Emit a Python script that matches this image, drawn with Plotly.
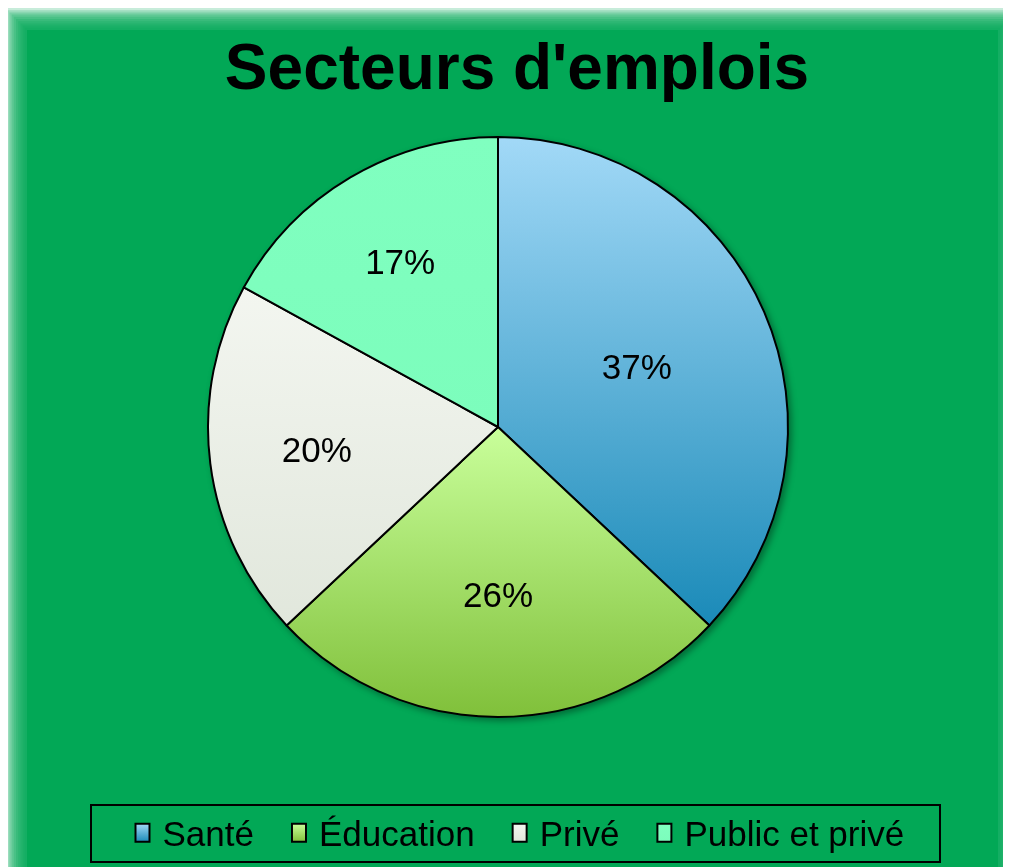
import json
import plotly.graph_objects as go

# ---- data ----
labels = ["Santé", "Éducation", "Privé", "Public et privé"]
values = [37, 26, 20, 17]
title_text = "Secteurs d'emplois"

# ---- styles ----
solid_colors = ["#5FA9D3", "#A6DE6B", "#EAEEE6", "#7FFFBF"]
grad_top = ["#A2D9F7", "#C9FF9B", "#F3F6F0", "#80FFC0"]
grad_bottom = ["#1A8AB8", "#80C03A", "#E1E7DC", "#7CFDBC"]
bg_green = "#02A856"
FONT = "Liberation Sans, Arial, sans-serif"
W, H = 1011, 867

fig = go.Figure()
fig.add_trace(go.Pie(
    labels=labels,
    values=values,
    sort=False,
    direction="clockwise",
    rotation=0,
    texttemplate="%{percent:.0%}",
    textposition="inside",
    insidetextorientation="horizontal",
    textfont=dict(family=FONT, size=35, color="black"),
    marker=dict(colors=solid_colors, line=dict(color="black", width=2)),
    domain=dict(x=[(490 - 290) / W, (490 + 290) / W],
                y=[1 - 709 / H, 1 - 129 / H]),
    hoverinfo="label+percent",
))

# soft-edged green background (decorative)
shapes = []
steps = 10
for i in range(steps):
    shapes.append(dict(type="rect", xref="paper", yref="paper", layer="below",
                       x0=(-3 + 2.2 * i) / W, x1=(1012 - 2.2 * i) / W,
                       y0=-0.05, y1=1 - (0 + 2.2 * i) / H,
                       fillcolor=bg_green, opacity=0.22, line=dict(width=0)))
shapes.append(dict(type="rect", xref="paper", yref="paper", layer="below",
                   x0=19 / W, x1=990 / W, y0=-0.05, y1=1 - 22 / H,
                   fillcolor=bg_green, opacity=1, line=dict(width=0)))
# legend frame
shapes.append(dict(type="rect", xref="paper", yref="paper", layer="above",
                   x0=83 / W, x1=932 / W, y0=1 - 854 / H, y1=1 - 797 / H,
                   fillcolor="rgba(0,0,0,0)", line=dict(color="black", width=2)))

fig.update_layout(
    width=W, height=H,
    margin=dict(l=0, r=0, t=0, b=0),
    paper_bgcolor="white",
    plot_bgcolor="rgba(0,0,0,0)",
    shapes=shapes,
    title=dict(text=title_text, x=509 / W, xanchor="center", y=1 - 59 / H,
               yanchor="middle", yref="container",
               font=dict(family=FONT, size=64, color="black", weight="bold")),
    showlegend=True,
    legend=dict(orientation="h", x=498 / W, xanchor="center", y=1 - 825 / H,
                yanchor="middle", bgcolor="rgba(0,0,0,0)",
                borderwidth=0, itemwidth=50,
                font=dict(family=FONT, size=35, color="black"),
                traceorder="normal"),
)

post = """
(function(){
  var gd = document.getElementById('{plot_id}');
  var tops = %s, bots = %s;
  var ns = 'http://www.w3.org/2000/svg';
  function apply(){
    var svg = gd.querySelector('svg.main-svg');
    var defs = svg.querySelector('defs');
    if (!defs) { defs = document.createElementNS(ns,'defs'); svg.insertBefore(defs, svg.firstChild); }
    for (var i=0;i<tops.length;i++){
      if (document.getElementById('sgrad'+i)) continue;
      var lg = document.createElementNS(ns,'linearGradient');
      lg.setAttribute('id','sgrad'+i);
      lg.setAttribute('x1','0'); lg.setAttribute('y1','0');
      lg.setAttribute('x2','0'); lg.setAttribute('y2','1');
      var s1 = document.createElementNS(ns,'stop');
      s1.setAttribute('offset','0'); s1.setAttribute('stop-color',tops[i]);
      var s2 = document.createElementNS(ns,'stop');
      s2.setAttribute('offset','1'); s2.setAttribute('stop-color',bots[i]);
      lg.appendChild(s1); lg.appendChild(s2); defs.appendChild(lg);
    }
    var sl = gd.querySelectorAll('g.slice path.surface');
    sl.forEach(function(p,i){ p.style.fill = 'url(#sgrad'+(i%%tops.length)+')'; });
    var lp = gd.querySelectorAll('g.legend .legendpoints path');
    lp.forEach(function(p,i){
      p.style.fill = 'url(#sgrad'+(i%%tops.length)+')';
      p.setAttribute('d','M17,9H3V-9H17Z');
    });
    var pl = gd.querySelector('g.pielayer');
    if (pl) pl.style.filter = 'drop-shadow(3px 3px 3px rgba(0,0,0,0.35))';
  }
  apply();
  gd.on('plotly_afterplot', apply);
})();
""" % (json.dumps(grad_top), json.dumps(grad_bottom))

fig.write_html("out.html", post_script=post)
